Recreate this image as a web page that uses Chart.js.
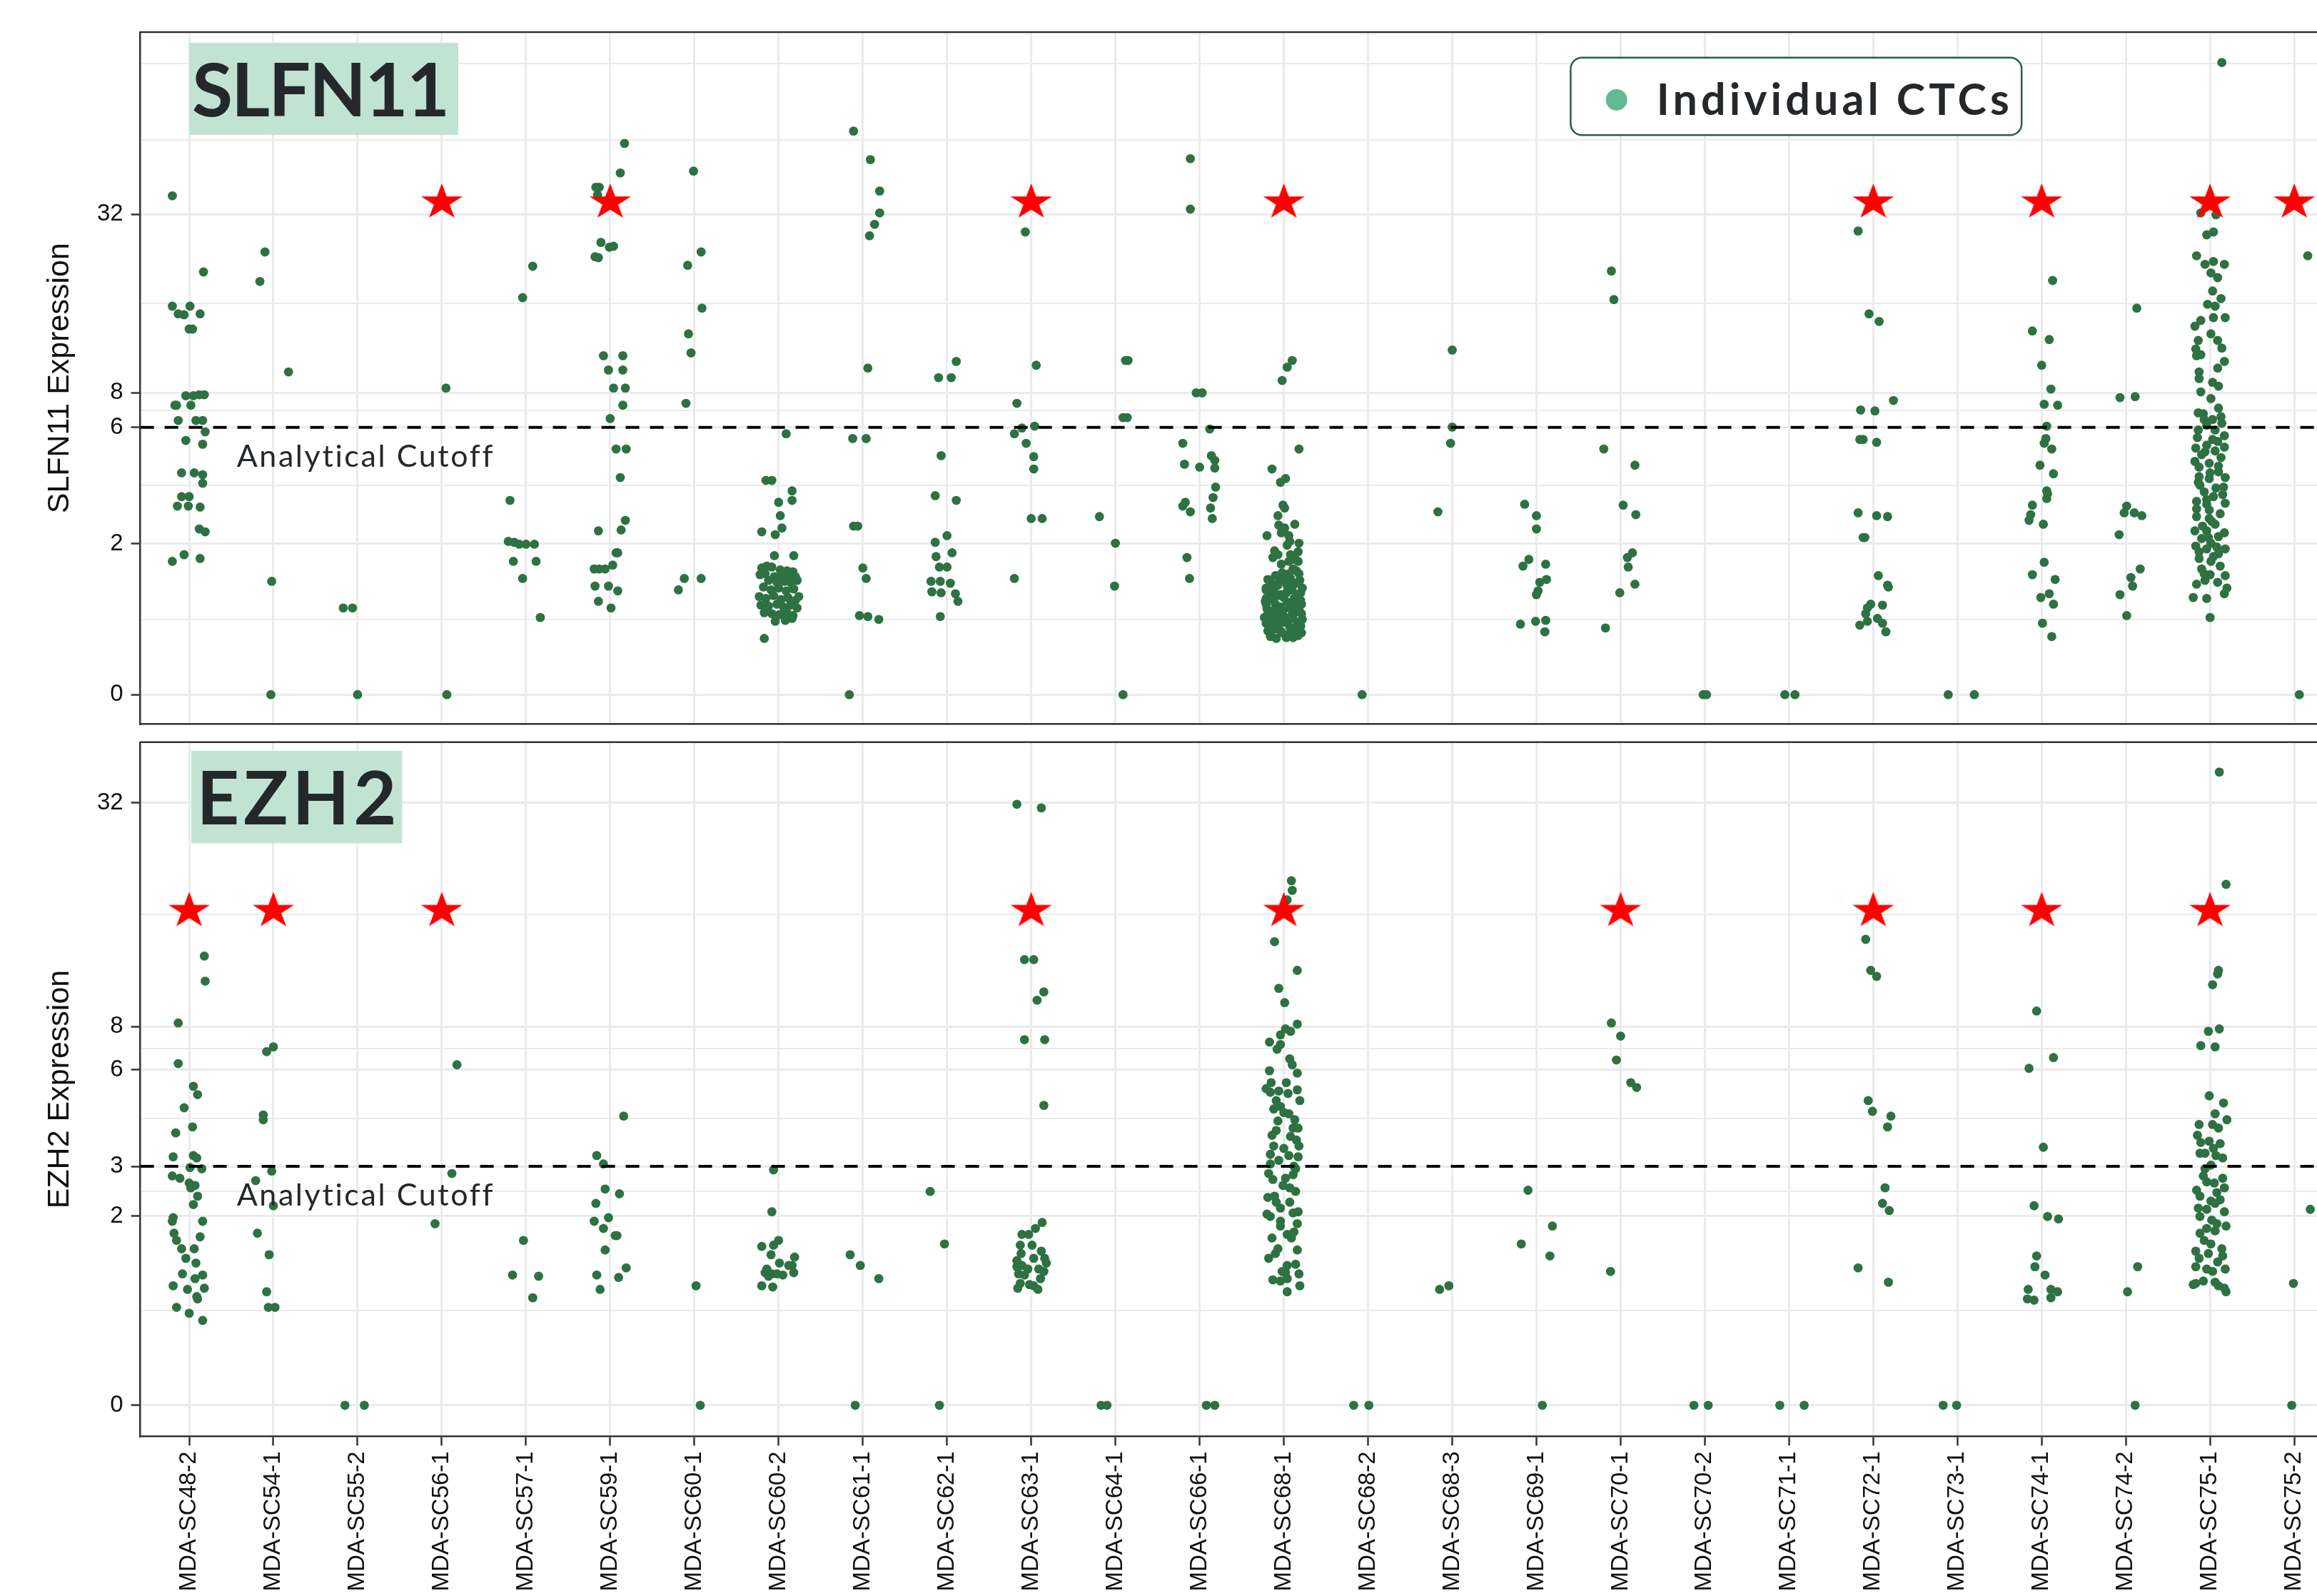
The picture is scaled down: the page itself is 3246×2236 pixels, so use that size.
<!DOCTYPE html>
<html>
<head>
<meta charset="utf-8">
<script src="https://cdn.jsdelivr.net/npm/chart.js@4.4.1/dist/chart.umd.min.js"></script>
<style>
  html, body { margin: 0; padding: 0; background: #fff; }
  body { width: 3246px; height: 2236px; position: relative; overflow: hidden; }
  canvas { position: absolute; left: 0; }
  #topChart { top: 0; }
  #bottomChart { top: 1030px; }
</style>
</head>
<body>
<canvas id="topChart" width="3246" height="1030"></canvas>
<canvas id="bottomChart" width="3246" height="1206"></canvas>
<script>
// ----- Data -----
const categories = ['MDA-SC48-2', 'MDA-SC54-1', 'MDA-SC55-2', 'MDA-SC56-1', 'MDA-SC57-1', 'MDA-SC59-1',
  'MDA-SC60-1', 'MDA-SC60-2', 'MDA-SC61-1', 'MDA-SC62-1', 'MDA-SC63-1', 'MDA-SC64-1', 'MDA-SC66-1',
  'MDA-SC68-1', 'MDA-SC68-2', 'MDA-SC68-3', 'MDA-SC69-1', 'MDA-SC70-1', 'MDA-SC70-2', 'MDA-SC71-1',
  'MDA-SC72-1', 'MDA-SC73-1', 'MDA-SC74-1', 'MDA-SC74-2', 'MDA-SC75-1', 'MDA-SC75-2'];

// axis breaks, in expression units
const slfn11Ticks = [0, 2, 6, 8, 32];
const ezh2Ticks   = [0, 2, 3, 6, 8, 32];
const slfn11Cutoff = 6;
const ezh2Cutoff   = 3;

// samples flagged with a star, and the level the star sits at
const slfn11Starred = ['MDA-SC56-1', 'MDA-SC59-1', 'MDA-SC63-1', 'MDA-SC68-1', 'MDA-SC72-1', 'MDA-SC74-1', 'MDA-SC75-1', 'MDA-SC75-2'];
const ezh2Starred   = ['MDA-SC48-2', 'MDA-SC54-1', 'MDA-SC56-1', 'MDA-SC63-1', 'MDA-SC68-1', 'MDA-SC70-1', 'MDA-SC72-1', 'MDA-SC74-1', 'MDA-SC75-1'];
const slfn11StarLevel = 35.5;
const ezh2StarLevel   = 16.8;

// individual CTCs per sample: [jitter, log2(expression + 1)]
const slfn11Cells = [
  /* SC48-2 */ [[-0.20,5.24],[0.17,4.44],[-0.20,4.08],[0.01,4.08],[-0.13,4.00],[-0.06,3.99],[0.13,4.00],[0.00,3.84],[0.04,3.84],[-0.04,3.14],[0.05,3.14],[0.12,3.15],[0.18,3.15],[-0.15,3.04],[-0.17,3.04],[0.02,3.04],[-0.13,2.88],[0.08,2.88],[0.16,2.88],[0.19,2.76],[-0.04,2.67],[0.16,2.63],[-0.09,2.33],[0.06,2.33],[0.16,2.31],[0.16,2.22],[-0.09,2.08],[0.00,2.08],[-0.14,1.98],[-0.01,1.98],[0.13,1.97],[0.12,1.74],[0.19,1.71],[-0.20,1.40],[-0.06,1.47],[0.13,1.43]],
  /* SC54-1 */ [[-0.10,4.65],[-0.16,4.34],[0.18,3.39],[-0.02,1.19],[-0.03,0]],
  /* SC55-2 */ [[-0.17,0.91],[-0.06,0.91],[0.00,0]],
  /* SC56-1 */ [[0.05,3.22],[0.06,0]],
  /* SC57-1 */ [[0.08,4.50],[-0.04,4.17],[-0.19,2.04],[-0.21,1.61],[-0.14,1.60],[-0.08,1.58],[0.00,1.58],[0.10,1.58],[-0.15,1.40],[0.12,1.40],[-0.04,1.22],[0.17,0.81]],
  /* SC59-1 */ [[0.17,5.79],[0.12,5.48],[-0.17,5.33],[-0.13,5.33],[-0.15,5.25],[-0.11,4.75],[-0.01,4.70],[0.04,4.71],[-0.18,4.60],[-0.14,4.59],[-0.08,3.56],[0.15,3.56],[-0.02,3.41],[0.15,3.41],[0.04,3.22],[0.18,3.22],[0.15,3.04],[0.00,2.90],[0.07,2.58],[0.19,2.58],[0.12,2.28],[0.18,1.83],[-0.14,1.72],[0.13,1.73],[0.07,1.49],[0.09,1.49],[-0.19,1.32],[-0.13,1.32],[-0.06,1.32],[0.03,1.36],[-0.18,1.14],[-0.02,1.14],[0.09,1.09],[-0.14,0.98],[0.01,0.91]],
  /* SC60-1 */ [[-0.01,5.50],[0.08,4.65],[-0.08,4.51],[0.09,4.06],[-0.07,3.79],[-0.04,3.59],[-0.10,3.06],[-0.12,1.22],[0.08,1.22],[-0.19,1.10]],
  /* SC60-2 */ [[0.09,2.74],[-0.15,2.25],[-0.08,2.25],[0.16,2.14],[0.16,2.04],[0.00,2.02],[0.02,1.88],[0.04,1.75],[-0.20,1.71],[-0.04,1.68],[-0.05,1.46],[0.18,1.46],
    [-0.20,1.33],[-0.14,1.35],[-0.08,1.34],[0.02,1.31],[0.10,1.30],[0.17,1.29],[-0.22,1.26],[-0.16,1.27],[-0.05,1.24],[0.04,1.25],[0.12,1.22],[0.20,1.24],
    [-0.12,1.20],[-0.02,1.18],[0.07,1.19],[0.15,1.17],[0.22,1.20],[-0.18,1.13],[-0.09,1.10],[0.00,1.12],[0.09,1.09],[0.18,1.11],
    [-0.23,1.03],[-0.15,1.01],[-0.06,1.04],[0.03,1.00],[0.11,1.02],[0.20,0.99],[0.24,1.03],[-0.21,0.94],[-0.12,0.93],[-0.02,0.95],[0.06,0.92],[0.14,0.94],[0.22,0.91],
    [-0.17,0.86],[-0.08,0.85],[0.01,0.84],[0.10,0.86],[0.17,0.83],[-0.04,0.77],[0.08,0.78],[0.16,0.80],[-0.17,0.59]],
  /* SC61-1 */ [[-0.11,5.92],[0.09,5.62],[0.20,5.29],[0.20,5.06],[0.14,4.94],[0.08,4.82],[0.06,3.43],[-0.12,2.69],[0.04,2.69],[-0.11,1.77],[-0.06,1.77],[0.00,1.33],[0.04,1.22],[-0.04,0.83],[0.06,0.82],[0.19,0.79],[-0.16,0]],
  /* SC62-1 */ [[0.11,3.50],[-0.10,3.33],[0.05,3.33],[-0.07,2.51],[-0.14,2.09],[0.11,2.04],[0.00,1.67],[-0.14,1.60],[0.06,1.49],[-0.13,1.45],[-0.09,1.34],[0.00,1.34],[-0.19,1.19],[-0.08,1.19],[0.04,1.17],[-0.18,1.08],[-0.07,1.07],[0.10,1.06],[0.13,0.98],[-0.08,0.82]],
  /* SC63-1 */ [[-0.07,4.86],[0.06,3.46],[-0.17,3.06],[-0.11,2.80],[0.04,2.82],[-0.20,2.74],[-0.06,2.64],[0.03,2.50],[0.03,2.37],[0.00,1.85],[0.13,1.85],[-0.20,1.22]],
  /* SC64-1 */ [[0.12,3.51],[0.15,3.51],[0.09,2.91],[0.14,2.91],[-0.19,1.87],[0.00,1.59],[-0.01,1.14],[0.09,0]],
  /* SC66-1 */ [[-0.11,5.63],[-0.11,5.10],[-0.04,3.17],[0.03,3.17],[0.12,2.79],[-0.20,2.64],[-0.18,2.42],[0.00,2.39],[0.14,2.51],[0.18,2.46],[0.18,2.38],[0.19,2.18],[0.16,2.07],[-0.20,1.98],[-0.17,2.02],[-0.11,1.92],[0.13,1.96],[0.15,1.85],[-0.15,1.44],[-0.12,1.22]],
  /* SC68-1 */ [[-0.02,3.30],[0.04,3.44],[0.10,3.51],[0.18,2.58],[-0.14,2.37],[-0.04,2.23],[0.02,2.27],[-0.01,1.99],[0.01,1.96],[-0.07,1.88],[0.13,1.79],[-0.06,1.78],[0.01,1.75],
    [-0.20,1.67],[-0.03,1.70],[0.06,1.67],[0.18,1.59],[0.07,1.61],[0.04,1.57],[-0.11,1.51],[-0.13,1.44],[-0.07,1.47],[0.06,1.40],[0.17,1.50],[0.17,1.40],[0.11,1.32],[0.18,1.27],
    [-0.19,1.21],[-0.10,1.25],[0.01,1.22],[0.15,1.17],[-0.21,1.12],[-0.07,1.15],[0.10,1.10],[0.20,1.07],[-0.16,1.05],[-0.21,1.01],[0.00,1.02],[0.15,0.97],[-0.10,0.95],[0.21,0.95],
    [-0.20,0.90],[0.07,0.91],[-0.04,0.85],[0.21,0.85],[-0.23,0.81],[-0.13,0.82],[0.11,0.80],[0.01,0.76],[-0.21,0.75],[0.20,0.72],[-0.10,0.69],[0.07,0.71],[-0.16,0.64],[-0.02,0.65],
    [0.15,0.65],[-0.09,0.59],[0.11,0.60],[-0.19,0.67],[0.22,0.79],[-0.21,1.10],[-0.14,1.12],[0.06,1.27],[0.13,1.42],[0.08,1.47],[-0.04,1.05],[0.04,0.97],[-0.19,0.85],[0.00,0.82],
    [0.18,1.05],[-0.07,0.77],[0.08,0.65],[-0.13,1.00],[-0.16,0.77],[0.14,0.87],[-0.04,0.92],[0.03,1.07],[-0.21,0.95],[0.18,0.90],[-0.11,1.12],[0.15,1.30],[-0.03,1.37],[0.08,1.22],
    [-0.04,0.67],[0.03,0.60],[0.21,0.65],[-0.17,0.72],[-0.06,0.74],[0.05,0.78],[0.16,0.76],[-0.12,0.88],[0.10,0.84],[-0.22,0.98],[0.12,1.01],[-0.07,1.04],[0.22,1.12],[-0.15,1.17],
    [0.04,1.14],[0.19,1.20],[-0.02,1.28],[-0.16,0.61],[0.17,0.62],[-0.01,0.88],[0.13,0.93],[-0.18,1.02],[0.09,1.16],[-0.09,0.81],[0.20,0.99],[-0.05,1.19],[0.12,0.70]],
  /* SC68-2 */ [[-0.07,0]],
  /* SC68-3 */ [[0.00,3.62],[0.00,2.81],[-0.02,2.64],[-0.17,1.92]],
  /* SC69-1 */ [[-0.14,2.00],[0.00,1.88],[0.00,1.74],[-0.09,1.42],[-0.16,1.35],[0.11,1.37],[0.12,1.21],[0.04,1.18],[0.02,1.09],[0.00,1.05],[-0.19,0.74],[-0.01,0.77],[0.11,0.78],[0.10,0.66]],
  /* SC70-1 */ [[-0.11,4.45],[-0.08,4.15],[-0.20,2.58],[0.17,2.41],[0.03,1.99],[0.18,1.89],[0.14,1.49],[0.08,1.44],[0.09,1.34],[0.17,1.16],[-0.01,1.07],[-0.18,0.70]],
  /* SC70-2 */ [[-0.02,0],[0.02,0]],
  /* SC71-1 */ [[-0.05,0],[0.07,0]],
  /* SC72-1 */ [[-0.18,4.87],[-0.05,4.00],[0.07,3.92],[0.24,3.09],[-0.15,2.99],[0.02,2.98],[-0.16,2.68],[-0.12,2.68],[0.04,2.65],[-0.18,1.91],[0.04,1.88],[0.17,1.87],[-0.12,1.65],[-0.10,1.65],[0.06,1.25],[0.17,1.15],[0.18,1.13],[-0.03,0.95],[-0.07,0.91],[0.11,0.94],[-0.09,0.85],[-0.07,0.77],[-0.16,0.73],[0.05,0.80],[0.11,0.75],[0.15,0.66]],
  /* SC73-1 */ [[-0.11,0],[0.20,0]],
  /* SC74-1 */ [[0.13,4.35],[-0.11,3.82],[0.09,3.73],[0.00,3.46],[0.11,3.21],[0.03,3.05],[0.19,3.04],[0.06,2.82],[0.05,2.69],[0.03,2.64],[0.12,2.58],[-0.02,2.41],[0.14,2.32],[0.06,2.14],[0.07,2.11],[0.06,2.06],[-0.11,1.99],[-0.13,1.89],[-0.15,1.83],[0.02,1.79],[0.03,1.39],[-0.11,1.26],[0.16,1.21],[0.09,1.06],[-0.01,1.02],[0.14,0.95],[0.01,0.75],[0.12,0.61]],
  /* SC74-2 */ [[0.13,4.06],[-0.07,3.12],[0.11,3.13],[0.01,1.98],[-0.02,1.91],[0.10,1.91],[0.19,1.88],[-0.08,1.68],[0.17,1.32],[0.06,1.23],[0.08,1.14],[-0.07,1.05],[0.01,0.83]],
  /* SC75-1 */ [[0.14,6.64],[-0.11,5.06],[0.07,5.04],[-0.04,4.83],[0.04,4.86],[-0.16,4.61],[-0.06,4.52],[0.04,4.55],[0.17,4.52],[0.01,4.43],[0.09,4.38],[0.03,4.24],[0.13,4.16],[-0.03,4.10],[0.06,4.08],
    [-0.18,3.87],[-0.11,3.93],[0.04,3.96],[0.18,3.96],[0.01,3.79],[0.09,3.72],[0.14,3.64],[-0.14,3.72],[-0.17,3.63],[-0.16,3.56],[-0.11,3.57],[0.17,3.50],[0.09,3.43],[-0.13,3.39],[-0.13,3.32],
    [0.03,3.28],[0.10,3.24],[-0.11,3.18],[0.01,3.11],[-0.14,2.96],[0.10,3.01],[-0.07,2.89],[0.13,2.92],[-0.14,2.78],[0.03,2.89],[0.17,2.72],[0.09,2.66],[0.06,2.78],[-0.04,2.83],[-0.17,2.59],
    [-0.04,2.62],[-0.10,2.52],[0.06,2.56],[0.13,2.49],[-0.13,2.39],[-0.01,2.43],[0.10,2.34],[0.18,2.28],[-0.13,2.29],[-0.14,2.23],[-0.01,2.27],[0.16,2.18],[-0.07,2.13],[0.04,2.08],[-0.16,2.03],
    [-0.04,2.00],[0.18,2.01],[-0.01,1.94],[-0.16,1.87],[-0.01,1.85],[0.06,1.79],[-0.18,1.72],[-0.04,1.72],[0.10,1.66],[-0.10,1.64],[0.01,1.59],[-0.17,1.56],[0.18,1.53],[0.10,1.48],[-0.04,1.53],
    [-0.13,1.43],[0.01,1.40],[-0.07,1.27],[0.00,1.26],[0.18,1.25],[-0.16,1.16],[0.20,1.12],[0.17,1.06],[-0.20,1.02],[-0.04,1.01],[0.00,0.81],
    [-0.08,2.95],[0.14,2.85],[-0.15,2.70],[0.03,2.68],[0.17,2.60],[-0.06,2.55],[-0.18,2.45],[0.10,2.40],[0.00,2.33],[-0.12,2.20],[0.07,2.17],[0.15,2.10],[-0.04,2.05],
    [-0.16,1.95],[0.12,1.90],[0.02,1.82],[-0.09,1.77],[0.17,1.70],[-0.02,1.65],[0.08,1.55],[-0.13,1.50],[0.04,1.45],[0.12,1.35],[-0.10,1.32],[-0.06,1.20],[0.09,1.18]],
  /* SC75-2 */ [[0.16,4.61],[0.06,0]]
];

const ezh2Cells = [
  /* SC48-2 */ [[0.18,3.76],[0.19,3.55],[-0.13,3.20],[-0.13,2.86],[0.05,2.67],[0.10,2.60],[-0.06,2.49],[0.04,2.33],[-0.16,2.28],[-0.19,2.08],[0.05,2.09],[0.09,2.07],[0.01,1.99],[0.15,1.98],[-0.20,1.92],[-0.11,1.90],[0.00,1.86],[0.07,1.84],[0.02,1.82],[0.10,1.75],[0.05,1.68],[-0.19,1.57],[-0.20,1.54],[0.16,1.54],[-0.18,1.44],[-0.15,1.38],[-0.09,1.31],[0.06,1.31],[0.13,1.41],[-0.04,1.23],[0.08,1.19],[-0.08,1.10],[0.16,1.09],[0.07,1.06],[-0.19,1.00],[-0.02,0.97],[0.09,0.91],[0.10,0.89],[0.18,0.98],[-0.15,0.82],[0.00,0.77],[0.16,0.71]],
  /* SC54-1 */ [[-0.08,2.96],[0.00,3.00],[-0.12,2.43],[-0.12,2.39],[-0.02,1.96],[-0.21,1.88],[0.00,1.67],[-0.19,1.44],[-0.05,1.26],[-0.08,0.95],[-0.06,0.82],[0.02,0.82]],
  /* SC55-2 */ [[-0.15,0],[0.08,0]],
  /* SC56-1 */ [[0.18,2.85],[0.12,1.94],[-0.08,1.52]],
  /* SC57-1 */ [[-0.03,1.38],[-0.16,1.09],[0.15,1.08],[0.08,0.90]],
  /* SC59-1 */ [[0.16,2.42],[-0.16,2.09],[-0.08,2.02],[-0.06,1.81],[0.11,1.77],[-0.17,1.69],[-0.02,1.57],[-0.19,1.54],[-0.08,1.48],[0.06,1.42],[0.08,1.42],[-0.06,1.30],[0.19,1.15],[-0.16,1.09],[0.10,1.07],[-0.12,0.97]],
  /* SC60-1 */ [[0.02,1.00],[0.07,0]],
  /* SC60-2 */ [[-0.06,1.97],[-0.08,1.62],[0.00,1.38],[-0.06,1.34],[-0.20,1.33],[-0.09,1.26],[0.19,1.24],[0.01,1.19],[0.12,1.17],[0.16,1.17],[-0.14,1.14],[0.18,1.11],[-0.16,1.11],[-0.08,1.10],[-0.02,1.10],[0.05,1.09],[-0.12,1.08],[-0.20,1.00],[-0.07,0.99]],
  /* SC61-1 */ [[-0.15,1.26],[-0.03,1.17],[0.19,1.06],[-0.09,0]],
  /* SC62-1 */ [[-0.20,1.79],[-0.03,1.35],[-0.09,0]],
  /* SC63-1 */ [[-0.17,5.03],[0.12,5.00],[-0.08,3.73],[0.03,3.73],[0.15,3.46],[0.07,3.39],[-0.08,3.06],[0.16,3.06],[0.15,2.51],
    [0.13,1.53],[0.05,1.48],[-0.11,1.43],[-0.03,1.43],[-0.13,1.34],[0.01,1.34],[0.12,1.29],[-0.12,1.27],[0.03,1.23],[0.16,1.23],[-0.17,1.21],[0.18,1.19],[-0.11,1.17],
    [-0.17,1.16],[-0.04,1.14],[0.09,1.14],[0.15,1.12],[-0.15,1.10],[-0.08,1.09],[0.11,1.06],[-0.13,1.02],[-0.02,1.01],[-0.16,0.98],[0.08,0.97],[0.03,1.00]],
  /* SC64-1 */ [[-0.17,0],[-0.10,0]],
  /* SC66-1 */ [[0.08,0],[0.18,0]],
  /* SC68-1 */ [[0.09,4.39],[0.10,4.31],[0.04,4.23],[-0.11,3.88],[0.16,3.64],[-0.06,3.49],[0.01,3.37],[0.16,3.19],[0.02,3.15],[0.08,3.13],[-0.04,3.10],[-0.17,3.04],[-0.08,2.98],[-0.04,3.02],
    [0.07,2.90],[-0.17,2.80],[0.16,2.78],[-0.15,2.70],[-0.21,2.65],[-0.16,2.62],[0.03,2.70],[-0.06,2.63],[0.05,2.61],[0.16,2.64],[-0.09,2.55],[0.19,2.55],[-0.04,2.50],[0.00,2.45],
    [0.06,2.44],[-0.07,2.38],[0.13,2.39],[0.11,2.32],[0.17,2.32],[-0.09,2.30],[-0.14,2.26],[0.15,2.22],[-0.12,2.17],[0.00,2.15],[0.18,2.17],[-0.16,2.10],[0.06,2.09],[0.17,2.08],
    [-0.16,2.02],[0.12,2.00],[-0.18,1.94],[-0.13,1.89],[0.02,1.90],[-0.01,1.84],[0.11,1.93],[0.07,1.82],[0.14,1.79],[-0.19,1.74],[-0.11,1.75],[-0.04,1.65],[0.07,1.70],[0.11,1.61],
    [0.17,1.62],[-0.20,1.60],[-0.16,1.58],[-0.04,1.54],[-0.04,1.50],[0.16,1.52],[0.04,1.43],[0.09,1.40],[-0.07,1.31],[-0.10,1.27],[0.16,1.30],[-0.18,1.23],[0.04,1.17],[0.14,1.18],
    [-0.02,1.12],[0.02,1.11],[0.18,1.10],[-0.13,1.05],[-0.04,1.04],[0.04,1.06],[0.19,1.00],[0.04,0.95],
    [0.10,2.85],[-0.12,2.48],[0.08,2.25],[-0.06,2.05],[0.14,1.98],[-0.09,1.70],[0.12,1.45],[-0.14,1.40]],
  /* SC68-2 */ [[-0.17,0],[0.01,0]],
  /* SC68-3 */ [[-0.15,0.97],[-0.04,1.00]],
  /* SC69-1 */ [[-0.10,1.80],[0.19,1.50],[-0.18,1.35],[0.16,1.25],[0.07,0]],
  /* SC70-1 */ [[-0.11,3.20],[0.00,3.09],[-0.05,2.89],[0.12,2.70],[0.19,2.66],[-0.12,1.12]],
  /* SC70-2 */ [[-0.13,0],[0.04,0]],
  /* SC71-1 */ [[-0.11,0],[0.18,0]],
  /* SC72-1 */ [[-0.09,3.90],[-0.03,3.64],[0.04,3.59],[-0.06,2.55],[-0.01,2.46],[0.21,2.42],[0.17,2.33],[0.14,1.82],[0.11,1.69],[0.19,1.63],[-0.18,1.15],[0.18,1.03]],
  /* SC73-1 */ [[-0.17,0],[-0.01,0]],
  /* SC74-1 */ [[-0.06,3.30],[0.14,2.91],[-0.15,2.82],[0.02,2.16],[-0.09,1.67],[0.07,1.58],[0.20,1.56],[-0.06,1.25],[-0.08,1.16],[0.04,1.09],[-0.16,0.97],[0.11,0.97],[0.19,0.95],[-0.17,0.89],[-0.09,0.88],[0.11,0.90]],
  /* SC74-2 */ [[0.14,1.16],[0.02,0.95],[0.11,0]],
  /* SC75-1 */ [[0.11,5.30],[0.19,4.36],[0.10,3.64],[0.09,3.61],[0.03,3.52],[-0.02,3.13],[0.11,3.15],[-0.11,3.01],[0.06,3.00],[-0.01,2.59],[0.16,2.53],[0.06,2.44],[0.20,2.39],[0.03,2.35],
    [0.10,2.32],[-0.15,2.26],[-0.11,2.20],[-0.01,2.21],[0.12,2.19],[-0.12,2.11],[-0.06,2.11],[0.07,2.09],[0.15,2.07],[0.01,2.01],[-0.06,1.98],[0.15,1.90],[-0.04,1.87],[0.05,1.86],
    [0.17,1.82],[0.08,1.78],[-0.12,1.75],[0.01,1.71],[0.06,1.69],[-0.14,1.65],[0.17,1.62],[-0.04,1.64],[-0.12,1.58],[0.08,1.52],[0.19,1.50],[-0.04,1.48],[-0.12,1.44],[0.06,1.46],
    [0.01,1.35],[0.14,1.31],[-0.17,1.29],[-0.02,1.27],[0.15,1.25],[-0.13,1.23],[-0.17,1.16],[-0.04,1.14],[0.03,1.12],[0.18,1.14],[-0.08,1.04],[-0.17,1.02],[0.06,1.03],[0.10,1.00],
    [0.17,0.98],[0.19,0.95],[-0.20,1.01],
    [-0.13,2.35],[0.04,2.15],[-0.08,1.92],[0.12,1.72],[-0.16,1.80],[0.02,1.55],[-0.07,1.38],[0.09,1.20]],
  /* SC75-2 */ [[0.19,1.64],[-0.01,1.02],[-0.03,0]]
];

// ----- Helpers -----
const toLog = v => Math.log2(v + 1);
const X_MIN = -0.58, X_MAX = 25.27;
const GRID = '#ebebeb';
const FRAME = '#333333';
const DOT = '#2e7142';
const INK = '#25282b';
const AXIS_FONT = "'Liberation Sans', Arial, sans-serif";

function cellPoints(cells) {
  const pts = [];
  cells.forEach((list, i) => list.forEach(([j, v]) => pts.push({ x: i + j, y: v })));
  return pts;
}

function starPoints(names, level) {
  return names.map(n => ({ x: categories.indexOf(n), y: toLog(level) }));
}

// filled five-point star used as the point image
function makeStar(w, h) {
  const c = document.createElement('canvas');
  c.width = w; c.height = h;
  const g = c.getContext('2d');
  const R = w / 1.902, sy = h / (1.809 * R);
  const cx = w / 2, cy = R * sy;
  g.beginPath();
  for (let k = 0; k < 10; k++) {
    const r = k % 2 ? R * 0.382 : R;
    const a = Math.PI * k / 5;
    g.lineTo(cx + r * Math.sin(a), cy - r * Math.cos(a) * sy);
  }
  g.closePath();
  g.fillStyle = '#ff0000';
  g.fill();
  return c;
}
const starImg = makeStar(58, 48);

// draw text stretched to a given width with letter spacing
function fitText(ctx, text, x, y, width, font, color) {
  ctx.save();
  ctx.font = font;
  const hasLS = 'letterSpacing' in ctx;
  if (hasLS) ctx.letterSpacing = '0px';
  const w = ctx.measureText(text).width;
  if (hasLS) ctx.letterSpacing = ((width - w) / (text.length - 1)).toFixed(2) + 'px';
  ctx.fillStyle = color;
  ctx.textAlign = 'left';
  ctx.textBaseline = 'alphabetic';
  ctx.fillText(text, x, y);
  ctx.restore();
}

// the panel geometry is fixed, so drop the label overhang Chart.js reserves
function noPadding(s) {
  s.paddingTop = 0; s.paddingBottom = 0; s.paddingLeft = 0; s.paddingRight = 0;
}

function yAxis(ticks, minors, min, max, title) {
  const major = ticks.map(toLog);
  return {
    type: 'linear', min, max,
    afterBuildTicks: s => { s.ticks = major.concat(minors).map(v => ({ value: v })); },
    afterFit: s => { s.width = 196.6; noPadding(s); },
    ticks: {
      autoSkip: false, padding: 11, color: '#111',
      font: { family: AXIS_FONT, size: 33 },
      callback: (v, i) => (i < ticks.length ? String(ticks[i]) : '')
    },
    grid: {
      color: GRID,
      lineWidth: c => (c.index < ticks.length ? 3 : 2),
      tickColor: c => (c.index < ticks.length ? FRAME : 'rgba(0,0,0,0)'),
      tickLength: 13, tickWidth: 2.5
    },
    border: { display: true, color: FRAME, width: 2.5 },
    title: {
      display: true, text: title, color: '#111',
      font: { family: AXIS_FONT, size: 43 },
      padding: { top: 58, bottom: 0 }
    }
  };
}

function xAxis(showLabels, height) {
  return {
    type: 'linear', min: X_MIN, max: X_MAX,
    afterBuildTicks: s => { s.ticks = categories.map((c, i) => ({ value: i })); },
    afterFit: s => { s.height = height; noPadding(s); },
    ticks: {
      display: showLabels, autoSkip: false, minRotation: 90, maxRotation: 90, padding: 8,
      color: '#111', font: { family: AXIS_FONT, size: 33 },
      callback: v => categories[v]
    },
    grid: { color: GRID, lineWidth: 3, tickColor: FRAME, tickLength: 13, tickWidth: 2.5, drawTicks: showLabels },
    border: { display: true, color: FRAME, width: 2.5 }
  };
}

function datasets(cells, starred, starLevel, cutoff) {
  return [
    { label: 'stars', data: starPoints(starred, starLevel), pointStyle: starImg, pointRadius: 10, order: 0 },
    { label: 'cutoff', data: [{ x: X_MIN, y: toLog(cutoff) }, { x: X_MAX, y: toLog(cutoff) }],
      showLine: true, pointRadius: 0, borderColor: '#000', borderWidth: 4, borderDash: [19, 15], order: 1 },
    { label: 'Individual CTCs', data: cellPoints(cells), pointRadius: 6.4, pointBorderWidth: 0,
      pointBackgroundColor: DOT, backgroundColor: DOT, order: 2 }
  ];
}

// panel decorations: top frame edge, gene tag, cutoff note, legend
function decor(opts) {
  return {
    id: 'decor',
    afterDatasetsDraw(chart) {
      const { ctx, chartArea: a, scales } = chart;
      ctx.save();
      ctx.strokeStyle = FRAME; ctx.lineWidth = 2.5;
      ctx.beginPath(); ctx.moveTo(a.left, a.top); ctx.lineTo(a.right, a.top); ctx.stroke();

      const t = opts.tag;
      ctx.fillStyle = '#c1e3d4';
      ctx.fillRect(t.box[0], t.box[1], t.box[2], t.box[3]);
      fitText(ctx, t.text, t.x, t.base, t.width, "bold 104px Lato", INK);

      const cy = scales.y.getPixelForValue(toLog(opts.cutoff)) + 55;
      fitText(ctx, 'Analytical Cutoff', scales.x.getPixelForValue(0.565), cy, 358, "43px Lato", INK);

      if (opts.legend) {
        const L = opts.legend;
        ctx.beginPath();
        ctx.roundRect(L.x, L.y, L.w, L.h, 16);
        ctx.fillStyle = '#fff'; ctx.fill();
        ctx.strokeStyle = '#2d5a50'; ctx.lineWidth = 2.5; ctx.stroke();
        ctx.beginPath();
        ctx.arc(L.x + 64.3, L.y + 59.2, 15, 0, Math.PI * 2);
        ctx.fillStyle = '#64b894'; ctx.fill();
        fitText(ctx, 'Individual CTCs', L.x + 120.3, L.y + 80.6, 494, "bold 61px Lato", INK);
      }
      ctx.restore();
    }
  };
}

const base = {
  responsive: false, animation: false, devicePixelRatio: 1, events: []
};

// ----- SLFN11 panel -----
new Chart(document.getElementById('topChart'), {
  type: 'scatter',
  data: { datasets: datasets(slfn11Cells, slfn11Starred, slfn11StarLevel, slfn11Cutoff) },
  options: {
    ...base,
    layout: { autoPadding: false, padding: { top: 44.9, bottom: 15.5, left: 0, right: 0 } },
    plugins: { legend: { display: false }, tooltip: { enabled: false } },
    scales: {
      x: xAxis(false, 0),
      y: yAxis(slfn11Ticks, [0.79, 2.196, 2.986, 4.107, 5.83, 6.63], -0.31, 6.96, 'SLFN11 Expression')
    }
  },
  plugins: [decor({
    tag: { text: 'SLFN11', box: [265, 60, 377, 129], x: 269, base: 162.6, width: 361 },
    cutoff: slfn11Cutoff,
    legend: { x: 2200.4, y: 80.7, w: 631.8, h: 108.6 }
  })]
});

// ----- EZH2 panel -----
new Chart(document.getElementById('bottomChart'), {
  type: 'scatter',
  data: { datasets: datasets(ezh2Cells, ezh2Starred, ezh2StarLevel, ezh2Cutoff) },
  options: {
    ...base,
    layout: { autoPadding: false, padding: { top: 9.8, bottom: 0, left: 0, right: 0 } },
    plugins: { legend: { display: false }, tooltip: { enabled: false } },
    scales: {
      x: xAxis(true, 223.7),
      y: yAxis(ezh2Ticks, [0.793, 1.79, 2.40, 2.988, 4.107], -0.26, 5.55, 'EZH2 Expression')
    }
  },
  plugins: [decor({
    tag: { text: 'EZH2', box: [267.8, 21.9, 295.5, 129.5], x: 275.6, base: 125.2, width: 280 },
    cutoff: ezh2Cutoff
  })]
});
</script>
</body>
</html>
